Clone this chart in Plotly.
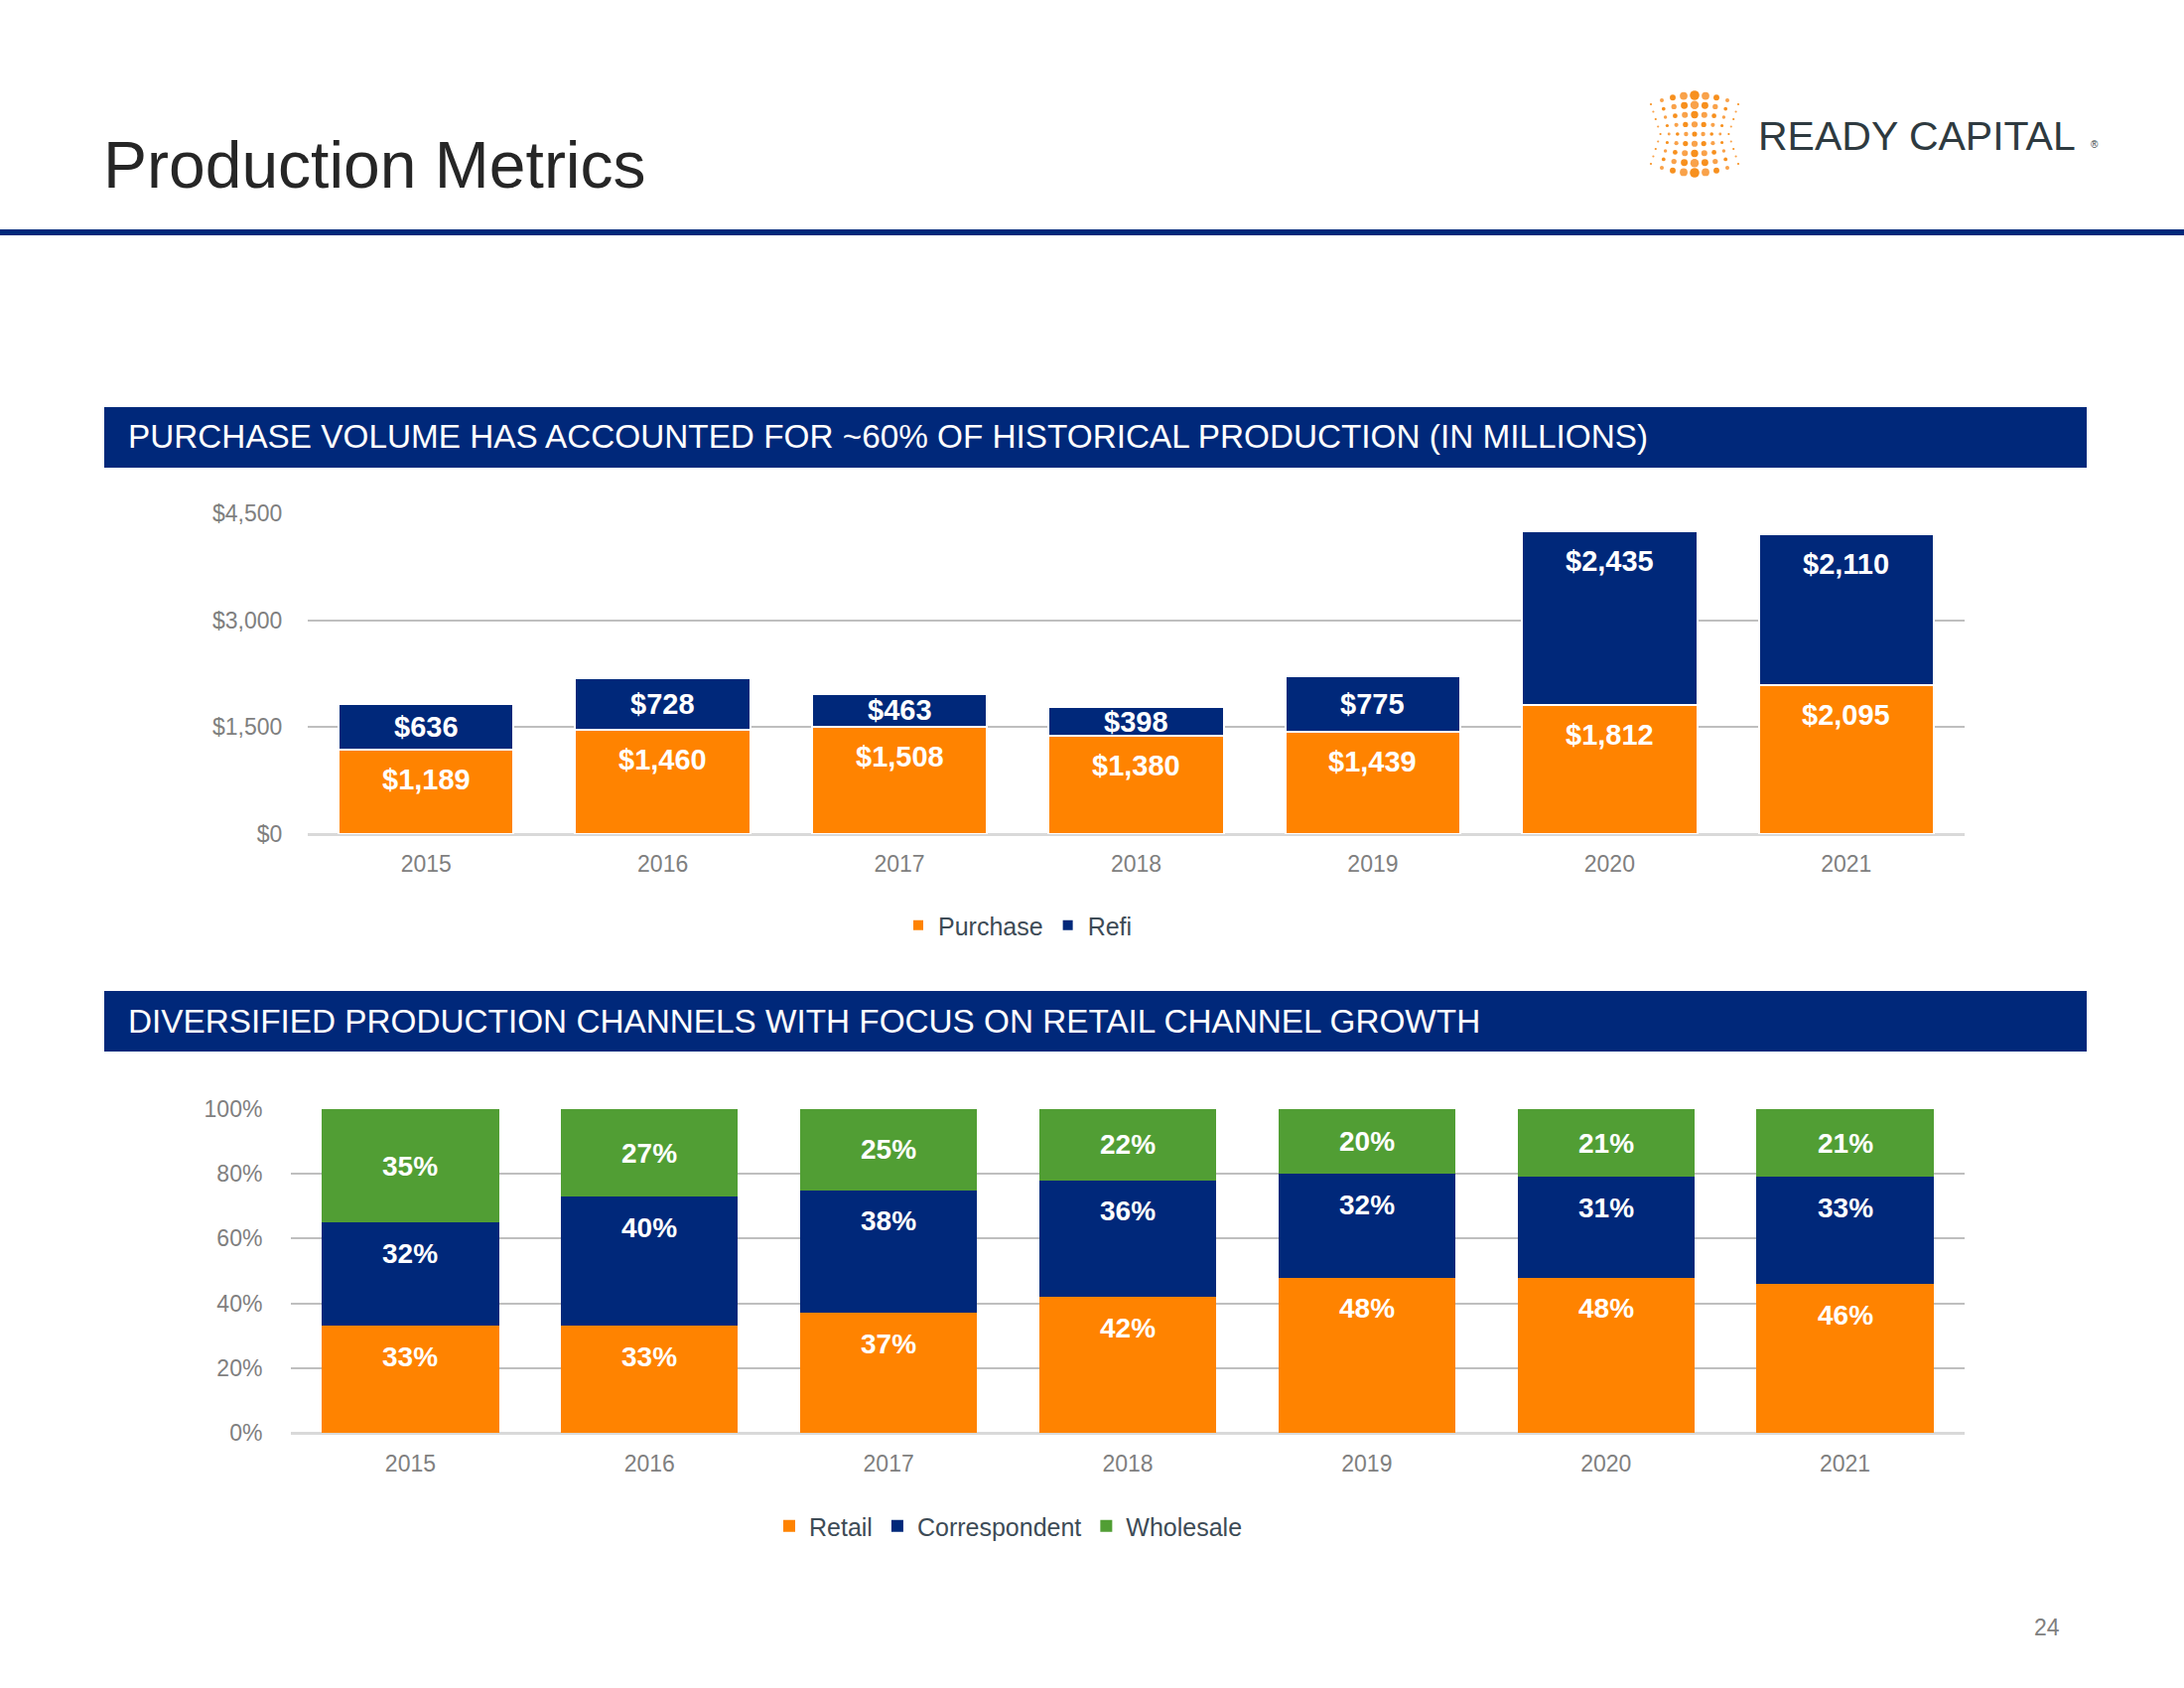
import plotly.graph_objects as go

# ---------------- data ----------------
years = ["2015", "2016", "2017", "2018", "2019", "2020", "2021"]
purchase = [1189, 1460, 1508, 1380, 1439, 1812, 2095]
refi = [636, 728, 463, 398, 775, 2435, 2110]
retail = [33, 33, 37, 42, 48, 48, 46]
correspondent = [32, 40, 38, 36, 32, 31, 33]
wholesale = [35, 27, 25, 22, 20, 21, 21]
volume_ticks = [0, 1500, 3000, 4500]
share_ticks = [0, 20, 40, 60, 80, 100]
volume_tick_labels = ["$" + format(v, ",") for v in volume_ticks]
share_tick_labels = [str(v) + "%" for v in share_ticks]

title_text = "Production Metrics"
header1 = "PURCHASE VOLUME HAS ACCOUNTED FOR ~60% OF HISTORICAL PRODUCTION (IN MILLIONS)"
header2 = "DIVERSIFIED PRODUCTION CHANNELS WITH FOCUS ON RETAIL CHANNEL GROWTH"
page_number = "24"

# ---------------- style ----------------
W, H = 2200, 1700
FONT = "Liberation Sans, Arial, sans-serif"
ORANGE = "#FF8300"
NAVY = "#00287A"
GREEN = "#519E34"
GRAY = "#7F7F7F"
LEGEND_COLOR = "#3D4B56"
GRID = "#BFBFBF"

# plot-area geometry (pixels)
C1_LEFT, C1_RIGHT, C1_BOTTOM, C1_TOP = 310, 1979, 840, 517
C2_LEFT, C2_RIGHT, C2_BOTTOM, C2_TOP = 293, 1979, 1443, 1117
C1_RANGE = [0, 4500]
C2_RANGE = [0, 100]
X_RANGE = [-0.5, len(years) - 0.5]
LABEL_DROP_PX = 30  # data labels sit this far below the top of their segment


def px(x):
    return x / W


def py(y):
    return 1 - y / H


fig = go.Figure()


def add_bar(y, name, color, xa, ya, leg, line_w):
    fig.add_trace(go.Bar(
        x=years, y=y, name=name,
        marker=dict(color=color, line=dict(color="white", width=line_w)),
        textposition="none",
        xaxis=xa, yaxis=ya, legend=leg, hoverinfo="x+y+name",
    ))


add_bar(purchase, "Purchase", ORANGE, "x", "y", "legend", 2)
add_bar(refi, "Refi", NAVY, "x", "y", "legend", 2)
add_bar(retail, "Retail", ORANGE, "x2", "y2", "legend2", 0)
add_bar(correspondent, "Correspondent", NAVY, "x2", "y2", "legend2", 0)
add_bar(wholesale, "Wholesale", GREEN, "x2", "y2", "legend2", 0)

# ---------------- data labels (placed through the axes' scales) ----------------
annotations = []


def add_labels(values, bases, xref, yref, fmt, size, drop_units, mode):
    # x is the category index on the category axis
    for idx, (v, b) in enumerate(zip(values, bases)):
        top = b + v
        mid = b + v / 2
        yv = mid if mode == "middle" else max(top - drop_units, mid)
        annotations.append(dict(
            text=fmt(v), x=idx, y=yv, xref=xref, yref=yref,
            xanchor="center", yanchor="middle", showarrow=False,
            font=dict(family=FONT, size=size, color="white", weight="bold"),
        ))


drop1 = LABEL_DROP_PX * (C1_RANGE[1] - C1_RANGE[0]) / (C1_BOTTOM - C1_TOP)
drop2 = (LABEL_DROP_PX + 1) * (C2_RANGE[1] - C2_RANGE[0]) / (C2_BOTTOM - C2_TOP)
zeros = [0] * len(years)
retail_corr = [a + b for a, b in zip(retail, correspondent)]

add_labels(purchase, zeros, "x", "y", lambda v: "$" + format(v, ","), 29, drop1, "end")
add_labels(refi, purchase, "x", "y", lambda v: "$" + format(v, ","), 29, drop1, "end")
add_labels(retail, zeros, "x2", "y2", lambda v: f"{v}%", 28, drop2, "end")
add_labels(correspondent, retail, "x2", "y2", lambda v: f"{v}%", 28, drop2, "end")
add_labels(wholesale, retail_corr, "x2", "y2", lambda v: f"{v}%", 28, drop2, "middle")

axis_common_x = dict(
    type="category", range=X_RANGE, autorange=False,
    showgrid=False, showline=False, zeroline=False,
    ticks="outside", tickcolor="rgba(0,0,0,0)", automargin=False,
    tickfont=dict(family=FONT, size=23, color=GRAY), fixedrange=True,
)
axis_common_y = dict(
    showgrid=True, gridcolor=GRID, gridwidth=1.5, showline=False,
    zeroline=True, zerolinecolor="#D9D9D9", zerolinewidth=3, autorange=False,
    ticks="outside", tickcolor="rgba(0,0,0,0)", tickmode="array", automargin=False,
    tickfont=dict(family=FONT, size=23, color=GRAY), fixedrange=True,
)

# ---------------- shapes ----------------
shapes = [
    # top rule
    dict(type="rect", xref="paper", yref="paper", x0=0, x1=1, y0=py(237), y1=py(231),
         fillcolor=NAVY, line=dict(width=0), layer="above"),
    # section header bars
    dict(type="rect", xref="paper", yref="paper", x0=px(105), x1=px(2102), y0=py(471), y1=py(410),
         fillcolor=NAVY, line=dict(width=0), layer="below"),
    dict(type="rect", xref="paper", yref="paper", x0=px(105), x1=px(2102), y0=py(1059), y1=py(998),
         fillcolor=NAVY, line=dict(width=0), layer="below"),
]

# logo dot pattern
cx, cy = 1707, 135
for i in range(-4, 5):
    for j in range(-4, 5):
        t = abs(j) / 4
        u = abs(i) / 4
        x = cx + i * (8.6 + 2.4 * t)
        y = cy + j * (7.5 + 2.25 * (1 - u * u))
        r = 1.1 + 3.2 * (1 - u) * (0.3 + 0.7 * t) + 0.5 * (1 - u)
        col = "#F7901E" if (i + j) % 2 == 0 else "#F9A24A"
        shapes.append(dict(type="circle", xref="paper", yref="paper",
                           x0=px(x - r), x1=px(x + r), y0=py(y + r), y1=py(y - r),
                           fillcolor=col, line=dict(width=0)))

# ---------------- page text ----------------
annotations += [
    dict(text=title_text, x=px(102), y=py(166), xref="paper", yref="paper",
         xanchor="left", yanchor="middle", showarrow=False,
         font=dict(family=FONT, size=66, color="#262626")),
    dict(text=header1, x=px(127), y=py(440), xref="paper", yref="paper",
         xanchor="left", yanchor="middle", showarrow=False,
         font=dict(family=FONT, size=33.3, color="white")),
    dict(text=header2, x=px(127), y=py(1028), xref="paper", yref="paper",
         xanchor="left", yanchor="middle", showarrow=False,
         font=dict(family=FONT, size=33.3, color="white")),
    dict(text="READY CAPITAL", x=px(1931), y=py(137), xref="paper", yref="paper",
         xanchor="center", yanchor="middle", showarrow=False,
         font=dict(family=FONT, size=41, color="#2E3A40")),
    dict(text="®", x=px(2104), y=py(145), xref="paper", yref="paper",
         xanchor="left", yanchor="middle", showarrow=False,
         font=dict(family=FONT, size=10, color="#2E3A40")),
    dict(text=page_number, x=px(2077), y=py(1639), xref="paper", yref="paper",
         xanchor="right", yanchor="middle", showarrow=False,
         font=dict(family=FONT, size=23, color=GRAY)),
]

legend_common = dict(
    orientation="h", xanchor="left", yanchor="middle",
    font=dict(family=FONT, size=25, color=LEGEND_COLOR),
    bgcolor="rgba(0,0,0,0)", traceorder="normal", itemclick=False, itemdoubleclick=False,
)

fig.update_layout(
    width=W, height=H, autosize=False,
    margin=dict(l=0, r=0, t=0, b=0, pad=0, autoexpand=False),
    paper_bgcolor="white", plot_bgcolor="white",
    barmode="stack", bargap=0.26,
    font=dict(family=FONT),
    xaxis=dict(domain=[px(C1_LEFT), px(C1_RIGHT)], anchor="y", ticklen=9, **axis_common_x),
    yaxis=dict(domain=[py(C1_BOTTOM), py(C1_TOP)], anchor="x", range=C1_RANGE,
               tickvals=volume_ticks, ticktext=volume_tick_labels,
               ticklen=20, **axis_common_y),
    xaxis2=dict(domain=[px(C2_LEFT), px(C2_RIGHT)], anchor="y2", ticklen=10, **axis_common_x),
    yaxis2=dict(domain=[py(C2_BOTTOM), py(C2_TOP)], anchor="x2", range=C2_RANGE,
                tickvals=share_ticks, ticktext=share_tick_labels,
                ticklen=23, **axis_common_y),
    legend=dict(x=px(905), y=py(932), **legend_common),
    legend2=dict(x=px(775), y=py(1537), **legend_common),
    shapes=shapes,
    annotations=annotations,
    showlegend=True,
)

# pin the figure to the top-left corner of the page so it fills the 2200x1700 window exactly
pin_js = (
    "var gd=document.getElementById('{plot_id}');"
    "document.documentElement.style.margin='0';"
    "document.body.style.margin='0';"
    "document.body.style.overflow='hidden';"
    "gd.style.position='absolute';gd.style.left='0px';gd.style.top='0px';"
)

fig.write_html("out.html", post_script=pin_js, config={"displayModeBar": False})
